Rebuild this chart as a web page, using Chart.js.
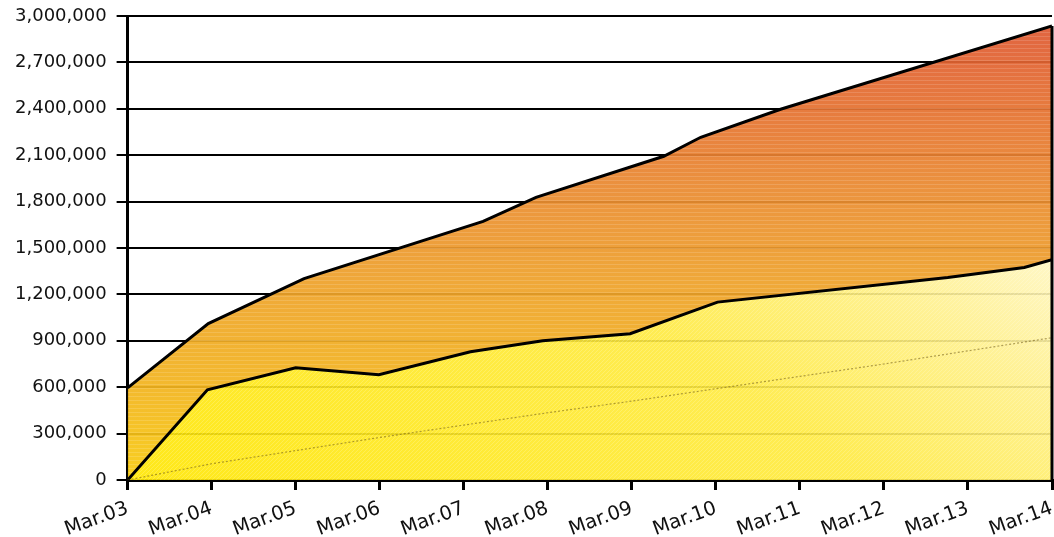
<!DOCTYPE html>
<html>
<head>
<meta charset="utf-8">
<script src="https://cdn.jsdelivr.net/npm/chart.js@4/dist/chart.umd.min.js"></script>
<style>
  html, body { margin: 0; padding: 0; background: #fff; }
  #wrap { width: 1054px; height: 537px; position: relative; }
</style>
</head>
<body>
<div id="wrap"><canvas id="areaChart"></canvas></div>
<script>
// tick labels for the x axis (one per day)
const dayLabels = ['Mar.03', 'Mar.04', 'Mar.05', 'Mar.06', 'Mar.07', 'Mar.08',
                   'Mar.09', 'Mar.10', 'Mar.11', 'Mar.12', 'Mar.13', 'Mar.14'];

// lower series (x = days since Mar.03)
const lowerX = [0, 0.95, 2.0, 2.99, 4.08, 4.94, 5.98, 7.02, 9.76, 10.67, 11];
const lowerY = [0, 583000, 726000, 680000, 829000, 900000, 946000, 1150000, 1309000, 1374000, 1425000];

// upper series
const upperX = [0, 0.96, 2.10, 4.23, 4.86, 6.38, 6.82, 7.77, 11];
const upperY = [596000, 1011000, 1302000, 1672000, 1827000, 2093000, 2216000, 2397000, 2935000];

// faint trend line inside the lower area
const trendX = [0, 1, 2, 3, 4, 5, 6, 7, 8, 9, 10, 11];
const trendY = [0, 105000, 190000, 275000, 355000, 435000, 510000, 590000, 670000, 750000, 835000, 920000];

const toPoints = (xs, ys) => xs.map((x, i) => ({ x: x, y: ys[i] }));

// fills: gradient painted on an offscreen canvas plus a fine texture, used as a pattern
let upperFill = null, lowerFill = null, fillKey = '';

function buildFills(chart) {
    const area = chart.chartArea;
    const key = [area.left, area.top, area.right, area.bottom, chart.width, chart.height].join(',');
    if (key === fillKey) return;
    fillKey = key;

    // upper: yellow-orange low down, red-orange at the top
    const c1 = document.createElement('canvas');
    c1.width = chart.width; c1.height = chart.height;
    const g1 = c1.getContext('2d');
    const grad1 = g1.createLinearGradient(0, area.bottom, 0, area.top);
    grad1.addColorStop(0, 'rgba(248, 204, 16, 0.93)');
    grad1.addColorStop(0.2, 'rgba(242, 180, 30, 0.93)');
    grad1.addColorStop(0.42, 'rgba(238, 162, 42, 0.93)');
    grad1.addColorStop(0.6, 'rgba(234, 142, 48, 0.93)');
    grad1.addColorStop(0.75, 'rgba(230, 120, 48, 0.93)');
    grad1.addColorStop(1, 'rgba(222, 86, 50, 0.93)');
    g1.fillStyle = grad1;
    g1.fillRect(0, 0, c1.width, c1.height);
    g1.fillStyle = 'rgba(255, 255, 255, 0.14)';
    for (let y = 0; y < c1.height; y += 4) g1.fillRect(0, y, c1.width, 1);
    upperFill = g1.createPattern(c1, 'no-repeat');

    // lower: saturated yellow at bottom-left, pale towards the top-right
    const c2 = document.createElement('canvas');
    c2.width = chart.width; c2.height = chart.height;
    const g2 = c2.getContext('2d');
    const grad2 = g2.createLinearGradient(area.left, area.bottom, area.left + 500, area.bottom - 700);
    grad2.addColorStop(0, 'rgba(255, 230, 0, 0.9)');
    grad2.addColorStop(0.5, 'rgba(255, 234, 64, 0.9)');
    grad2.addColorStop(0.7, 'rgba(255, 240, 138, 0.9)');
    grad2.addColorStop(0.85, 'rgba(255, 247, 200, 0.9)');
    grad2.addColorStop(1, 'rgba(255, 253, 238, 0.9)');
    g2.fillStyle = grad2;
    g2.fillRect(0, 0, c2.width, c2.height);
    g2.strokeStyle = 'rgba(255, 255, 255, 0.18)';
    g2.lineWidth = 1;
    for (let x = -c2.height; x < c2.width; x += 4) {
        g2.beginPath();
        g2.moveTo(x, c2.height);
        g2.lineTo(x + c2.height, 0);
        g2.stroke();
    }
    lowerFill = g2.createPattern(c2, 'no-repeat');
}

function fillFor(which) {
    return (context) => {
        const chart = context.chart;
        if (!chart.chartArea) return 'rgba(0,0,0,0)';
        buildFills(chart);
        return which === 'upper' ? upperFill : lowerFill;
    };
}

// closes the upper area on the right side with a vertical edge
const rightEdge = {
    id: 'rightEdge',
    afterDatasetsDraw(chart) {
        const pts = chart.getDatasetMeta(1).data;
        if (!pts.length) return;
        const last = pts[pts.length - 1];
        const c = chart.ctx;
        c.save();
        c.strokeStyle = '#000';
        c.lineWidth = 3;
        c.beginPath();
        c.moveTo(last.x, last.y);
        c.lineTo(last.x, chart.chartArea.bottom);
        c.stroke();
        c.restore();
    }
};

const yFont = { family: '"DejaVu Sans", sans-serif', size: 18 };
const xFont = { family: '"DejaVu Sans", sans-serif', size: 19.5 };

new Chart(document.getElementById('areaChart'), {
    type: 'line',
    data: {
        datasets: [
            {
                label: 'lower',
                data: toPoints(lowerX, lowerY),
                borderColor: '#000',
                borderWidth: 3,
                backgroundColor: fillFor('lower'),
                fill: 'origin',
                pointRadius: 0,
                tension: 0
            },
            {
                label: 'upper',
                data: toPoints(upperX, upperY),
                borderColor: '#000',
                borderWidth: 3,
                backgroundColor: fillFor('upper'),
                fill: '-1',
                pointRadius: 0,
                tension: 0
            },
            {
                label: 'trend',
                data: toPoints(trendX, trendY),
                borderColor: 'rgba(110, 88, 20, 0.55)',
                borderWidth: 1.2,
                borderDash: [2, 2],
                fill: false,
                pointRadius: 0,
                tension: 0,
                order: -1
            }
        ]
    },
    options: {
        responsive: true,
        maintainAspectRatio: false,
        animation: false,
        layout: { padding: { top: 16, right: 2, left: 5, bottom: 0 } },
        plugins: {
            legend: { display: false },
            tooltip: { enabled: false }
        },
        scales: {
            x: {
                type: 'linear',
                min: 0,
                max: 11,
                afterFit: (scale) => { scale.paddingRight = 0; scale.height = 57; },
                border: { display: true, color: '#000', width: 3 },
                grid: {
                    drawOnChartArea: false,
                    drawTicks: true,
                    tickLength: 10,
                    color: '#000',
                    lineWidth: 3
                },
                ticks: {
                    stepSize: 1,
                    autoSkip: false,
                    minRotation: 20,
                    maxRotation: 20,
                    padding: 7,
                    color: '#111',
                    font: xFont,
                    callback: (v) => dayLabels[v]
                }
            },
            y: {
                min: 0,
                max: 3000000,
                afterFit: (scale) => { scale.paddingTop = 0; },
                border: { display: true, color: '#000', width: 3 },
                grid: {
                    color: '#000',
                    lineWidth: 2,
                    drawTicks: true,
                    tickLength: 11
                },
                ticks: {
                    stepSize: 300000,
                    padding: 10,
                    color: '#111',
                    font: yFont,
                    callback: (v) => v.toLocaleString('en-US')
                }
            }
        }
    },
    plugins: [rightEdge]
});
</script>
</body>
</html>
